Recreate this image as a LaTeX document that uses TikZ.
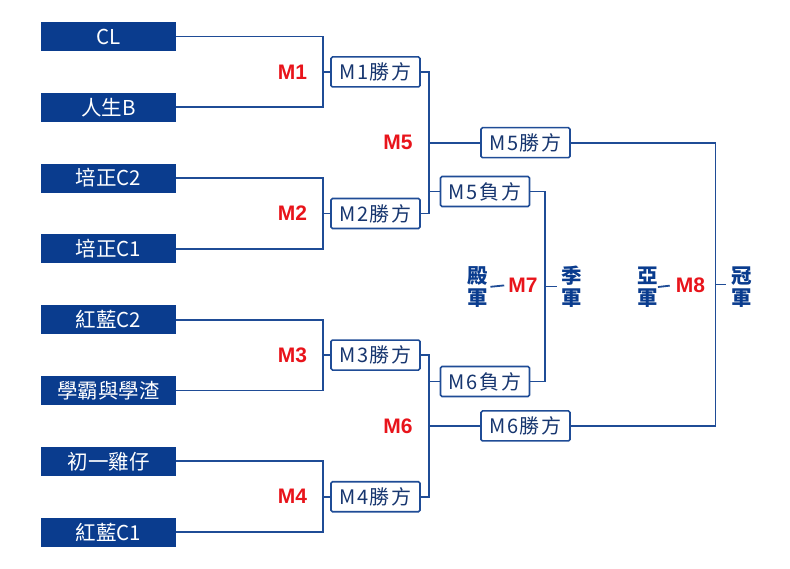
\documentclass[tikz,border=0pt]{standalone}
\usepackage{fontspec}
\usepackage{xcolor}
\setmainfont{Liberation Sans}
\newfontfamily\cjk{Noto Sans CJK TC}
\newfontfamily\cjkwide{Noto Sans CJK TC}[LetterSpace=8]
\definecolor{brBlue}{HTML}{0A3C8E}
\definecolor{brLine}{HTML}{1F4C96}
\definecolor{brText}{HTML}{17366F}
\definecolor{brRed}{HTML}{E8141B}

\begin{document}
\begin{tikzpicture}[x=1pt,y=-1pt]
    \useasboundingbox (0,0) rectangle (790,569);
    \pgfmathsetmacro{\h}{70.8}
    \tikzset{
        team/.style={fill=brBlue,minimum width=135pt,minimum height=29pt,inner sep=0pt,
            text=white,font=\cjk\fontsize{20.5}{22}\selectfont},
        result/.style={draw=brLine,line width=1.6pt,fill=white,rounded corners=1.5pt,
            minimum width=89pt,minimum height=30pt,inner sep=0pt,text=brText,
            font=\cjkwide\fontsize{20}{22}\selectfont},
        match/.style={text=brRed,inner sep=0pt,font=\bfseries\fontsize{21}{22}\selectfont},
        place/.style={text=brBlue,inner sep=0pt,align=center,
            font=\cjk\bfseries\fontsize{20.5}{22}\selectfont},
        wire/.style={draw=brLine,line width=1.8pt}
    }
    \foreach \name [count=\i] in {CL,人生B,培正C2,培正C1,紅藍C2,學霸與學渣,初一雞仔,紅藍C1}{
        \node[team] (t\i) at (108.5,36.5+\h*\i-\h) {\name};}
    \foreach \j in {1,...,4}{
        \pgfmathtruncatemacro{\a}{2*\j-1}
        \pgfmathtruncatemacro{\b}{2*\j}
        \coordinate (j\j) at (323,36.5+\h*2*\j-1.5*\h);
        \node[result] (w\j) at (375.5,36.5+\h*2*\j-1.5*\h) {M\j{}勝方};
        \node[match] (m\j) at (292.5,36.5+\h*2*\j-1.5*\h) {M\j};
        \draw[wire] (t\a.east) -| (j\j) |- (t\b.east);
        \draw[wire] (j\j) -- (w\j.west);
    }
    \coordinate (k5) at (429,36.5+1.5*\h);
    \coordinate (k6) at (429,36.5+5.5*\h);
    \node[match] (m5) at (398,36.5+1.5*\h) {M5};
    \node[match] (m6) at (398,36.5+5.5*\h) {M6};
    \node[result] (w5) at (525.5,36.5+1.5*\h) {M5勝方};
    \node[result] (w6) at (525.5,36.5+5.5*\h) {M6勝方};
    \node[result] (l5) at (485,191.5) {M5負方};
    \node[result] (l6) at (485,381.5) {M6負方};
    \draw[wire] (w1.east) -| (k5) |- (w2.east);
    \draw[wire] (w3.east) -| (k6) |- (w4.east);
    \draw[wire] (k5) -- (w5.west);
    \draw[wire] (k6) -- (w6.west);
    \draw[wire] (l5.west) -- (l5.west -| k5);
    \draw[wire] (l6.west) -- (l6.west -| k6);
    % third place and final
    \coordinate (k7) at (545,286.5);
    \coordinate (k8) at (715.5,284.5);
    \draw[wire] (l5.east) -| (k7) |- (l6.east);
    \draw[wire] (w5.east) -| (k8) |- (w6.east);
    \node[place] (p7l) at (478,287) {殿\\軍};
    \node[match] (m7) at (523,285) {M7};
    \node[place] (p7r) at (572,287) {季\\軍};
    \node[place] (p8l) at (647.5,287) {亞\\軍};
    \node[match] (m8) at (690.5,285) {M8};
    \node[place] (p8r) at (741.5,287) {冠\\軍};
    \draw[wire,shorten <=2pt,shorten >=4pt] (p7l.east) -- (m7.west);
    \draw[wire,shorten >=5pt] (k7) -- (p7r.west |- k7);
    \draw[wire,shorten >=6pt] (p8l.east) -- (m8.west);
    \draw[wire,shorten >=5pt] (k8) -- (p8r.west |- k8);
\end{tikzpicture}
\end{document}
